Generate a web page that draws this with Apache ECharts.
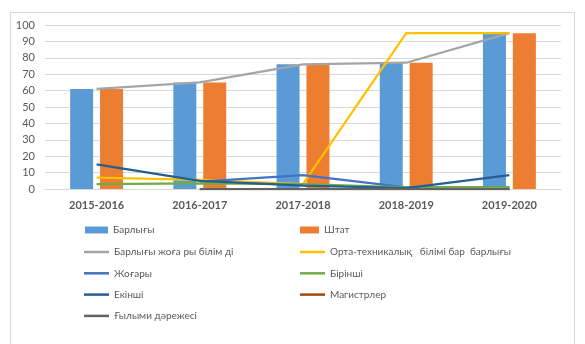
<!DOCTYPE html>
<html><head><meta charset="utf-8">
<script src="https://cdn.jsdelivr.net/npm/echarts@6/dist/echarts.min.js"></script>
<style>html,body{margin:0;padding:0;background:#fff}#c{width:585px;height:344px}</style>
</head><body><div id="c"></div>
<script>
const categories = ['2015-2016','2016-2017','2017-2018','2018-2019','2019-2020'];
const barlygy = [61, 65, 76, 77, 95];
const shtat = [61, 65, 76, 77, 95];
const zhogaryBilim = [61, 65, 76, 77, 95];
const ortaTekh = [7, 5.5, 3, 95, 95];
const zhogary = [null, 4.5, 8.5, 1, 1];
const birinshi = [3, 3.5, 3, 1, 1];
const ekinshi = [15, 5, 2, 0.5, 8.5];
const magistr = [null, 0, 0, 0, 0];
const gylymi = [null, 0, 0, 0, 0];
const yTicks = [0, 10, 20, 30, 40, 50, 60, 70, 80, 90, 100];

const names = {
  b: 'Барлығы', s: 'Штат', zb: 'Барлығы жоға ры білім ді',
  ot: 'Орта-техникалық   білімі бар  барлығы', z: 'Жоғары', bi: 'Бірінші',
  e: 'Екінші', m: 'Магистрлер', g: 'Ғылыми дәрежесі'
};
const font = 'Lato, "Open Sans", sans-serif';
const txt = {color: '#595959', fontSize: 10, fontFamily: font, lineHeight: 14};
function line(name, data, color) {
  return {name, type: 'line', data, showSymbol: false, symbol: 'none',
    lineStyle: {color, width: 2.25}, itemStyle: {color}, connectNulls: false};
}
const chart = echarts.init(document.getElementById('c'));
chart.setOption({
  animation: false,
  graphic: [
    {type: 'polyline', shape: {points: [[10.5, 344], [10.5, 12.5], [574.5, 12.5], [574.5, 344]]},
     style: {stroke: '#D9D9D9', fill: null, lineWidth: 1}}
  ],
  grid: {left: 45, right: 24, top: 25, bottom: 155},
  xAxis: {type: 'category', data: categories,
    axisLine: {lineStyle: {color: '#D9D9D9'}}, axisTick: {show: false},
    axisLabel: {color: '#595959', fontSize: 11, fontWeight: 'bold', fontFamily: font, margin: 11}},
  yAxis: {type: 'value', min: yTicks[0], max: yTicks[yTicks.length - 1], interval: 10,
    axisLine: {show: false}, axisTick: {show: false},
    splitLine: {lineStyle: {color: '#D9D9D9'}},
    axisLabel: {color: '#595959', fontSize: 11, fontFamily: font, margin: 10}},
  legend: [
    {data: [names.b], left: 80, top: 218, icon: 'rect', itemWidth: 23, itemHeight: 7, textStyle: txt},
    {data: [names.s], left: 295, top: 218, icon: 'rect', itemWidth: 19, itemHeight: 7, textStyle: txt},
    {data: [names.zb, names.z, names.e, names.g], orient: 'vertical', left: 79, top: 240,
      icon: 'rect', itemWidth: 25, itemHeight: 2.5, itemGap: 7.3, textStyle: txt},
    {data: [names.ot, names.bi, names.m], orient: 'vertical', left: 295, top: 240,
      icon: 'rect', itemWidth: 25, itemHeight: 2.5, itemGap: 7.3, textStyle: txt}
  ],
  series: [
    {name: names.b, type: 'bar', data: barlygy, barWidth: 23, barGap: '30%', itemStyle: {color: '#5B9BD5'}},
    {name: names.s, type: 'bar', data: shtat, barWidth: 23, itemStyle: {color: '#ED7D31'}},
    line(names.zb, zhogaryBilim, '#A5A5A5'),
    line(names.ot, ortaTekh, '#FFC000'),
    line(names.z, zhogary, '#4472C4'),
    line(names.bi, birinshi, '#70AD47'),
    line(names.e, ekinshi, '#255E91'),
    line(names.m, magistr, '#9E480E'),
    line(names.g, gylymi, '#636363')
  ]
});
</script></body></html>
